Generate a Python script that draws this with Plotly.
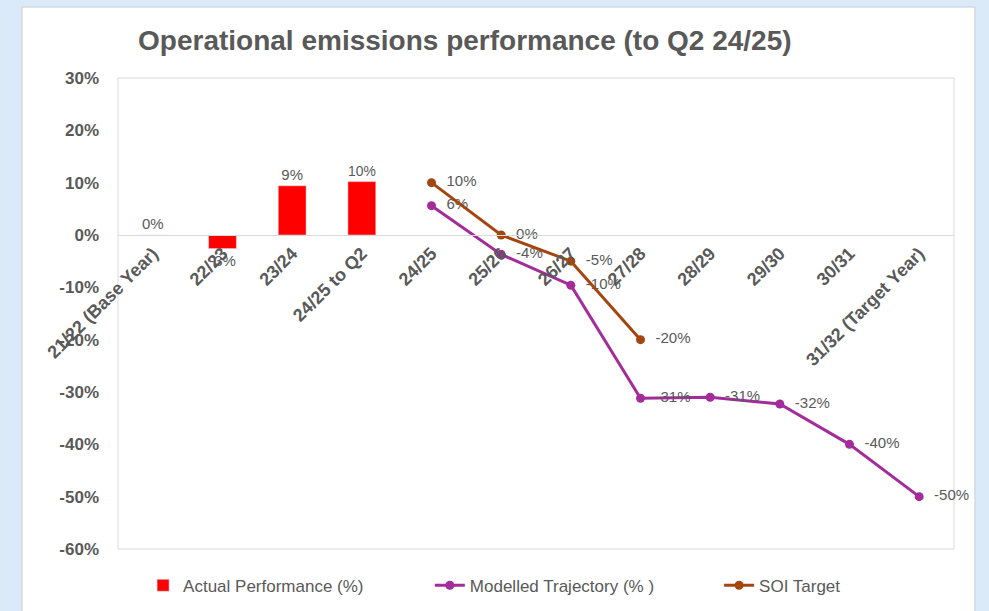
import plotly.graph_objects as go

categories = ["21/22 (Base Year)", "22/23", "23/24", "24/25 to Q2", "24/25", "25/26",
              "26/27", "27/28", "28/29", "29/30", "30/31", "31/32 (Target Year)"]

actual_cats = categories[0:4]
actual_vals = [0, -2.6, 9.4, 10.2]

modelled_cats = categories[4:12]
modelled_vals = [5.6, -3.7, -9.6, -31.2, -31.0, -32.3, -40.0, -50.0]

soi_cats = categories[4:8]
soi_vals = [10.0, 0.0, -5.0, -20.0]

y_ticks = [30, 20, 10, 0, -10, -20, -30, -40, -50, -60]
y_tick_text = [f"{v}%" for v in y_ticks]

GREY = "#595959"
LABEL_FONT = dict(family="Liberation Sans, Arial", size=15, color=GREY)
LEGEND_FONT = dict(family="Liberation Sans, Arial", size=17, color=GREY)

fig = go.Figure()
fig.add_trace(go.Bar(
    x=actual_cats, y=actual_vals, name="Actual Performance (%)",
    marker=dict(color="#ff0000"), width=0.4,
    texttemplate="%{y:.0f}%", textposition="outside",
    textfont=LABEL_FONT, cliponaxis=False, legend="legend",
))
fig.add_trace(go.Scatter(
    x=modelled_cats, y=modelled_vals, name="Modelled Trajectory (% )",
    mode="lines+markers+text", line=dict(color="#a32c9a", width=3),
    marker=dict(size=9, color="#a32c9a"),
    texttemplate="\u00a0\u00a0%{y:.0f}%", textposition="middle right", textfont=LABEL_FONT,
    cliponaxis=False, legend="legend2",
))
fig.add_trace(go.Scatter(
    x=soi_cats, y=soi_vals, name="SOI Target",
    mode="lines+markers+text", line=dict(color="#a3460f", width=3),
    marker=dict(size=9, color="#a3460f"),
    texttemplate="\u00a0\u00a0%{y:.0f}%", textposition="middle right", textfont=LABEL_FONT,
    cliponaxis=False, legend="legend3",
))

ymin, ymax = -60, 30
leg_common = dict(orientation="h", xanchor="left", y=-0.078, yanchor="middle",
                  font=LEGEND_FONT, bgcolor="rgba(0,0,0,0)")
fig.update_layout(
    width=989, height=611,
    margin=dict(l=118, r=35, t=78, b=62, autoexpand=False),
    paper_bgcolor="#dbeaf8",
    plot_bgcolor="#ffffff",
    title=dict(text="Operational emissions performance (to Q2 24/25)",
               x=0.47, xanchor="center", y=0.935, yanchor="middle",
               font=dict(family="Liberation Sans, Arial", size=28, color=GREY, weight="bold")),
    showlegend=True,
    legend=dict(x=0.03, **leg_common),
    legend2=dict(x=0.373, **leg_common),
    legend3=dict(x=0.719, **leg_common),
    xaxis=dict(type="category", categoryorder="array", categoryarray=categories,
               range=[-0.5, len(categories) - 0.5],
               anchor="free", position=(0 - ymin) / (ymax - ymin), automargin=False,
               showline=True, linecolor="#d9d9d9", linewidth=1,
               tickangle=-45, ticks="", showgrid=False, zeroline=False,
               tickfont=dict(family="Liberation Sans, Arial", size=18, color=GREY, weight="bold")),
    yaxis=dict(range=[ymin, ymax], tickvals=y_ticks, ticktext=y_tick_text, automargin=False,
               showgrid=False, zeroline=False, showline=False, ticks="", ticklabelstandoff=18,
               tickfont=dict(family="Liberation Sans, Arial", size=17, color=GREY, weight="bold")),
    shapes=[
        dict(type="rect", xref="paper", yref="paper", x0=-0.1148, x1=1.025, y0=-0.2, y1=1.1507,
             fillcolor="#ffffff", line=dict(color="#c5cdd6", width=1), layer="below"),
        dict(type="rect", xref="paper", yref="paper", x0=0, x1=1, y0=0, y1=1,
             line=dict(color="#d9d9d9", width=1), layer="below"),
    ],
)

fig.write_html("out.html", config={"displayModeBar": False},
               post_script="document.body.style.margin='0px';document.body.style.background='#dbeaf8';")
